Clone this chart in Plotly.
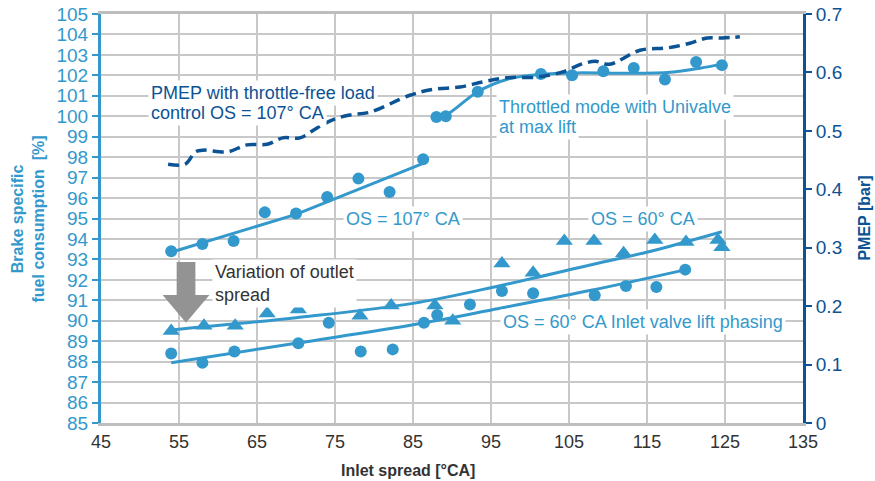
import plotly.graph_objects as go

LB = "#3399cc"   # light blue
DB = "#0b5394"   # dark blue
GRID = "#c8c8c8"
TXT = "#333333"
FONT = "Liberation Sans, Arial, sans-serif"

# ---- data ----
os107_x = [54, 58, 62, 66, 70, 74, 78, 82, 86.3]
os107_y = [93.4, 93.75, 93.9, 95.3, 95.25, 96.05, 96.95, 96.3, 97.9]
os107_fit_x = [54, 70, 86.3]
os107_fit_y = [93.35, 95.2, 97.7]

thr_x = [88.0, 89.2, 93.3, 101.4, 105.4, 109.4, 113.3, 117.3, 121.3, 124.6]
thr_y = [99.96, 100.0, 101.2, 102.07, 102.0, 102.2, 102.36, 101.8, 102.65, 102.5]
thr_fit_x = [88.0, 89.2, 93.3, 97, 101.4, 106, 112, 118, 121.8, 124.6]
thr_fit_y = [99.96, 100.05, 101.2, 101.8, 102.05, 102.12, 102.1, 102.15, 102.35, 102.55]

tri_x = [54, 58.2, 62.2, 66.3, 70.3, 74.2, 78.2, 82.2, 87.8, 90.1, 96.4, 100.4, 104.4, 108.2, 112, 116, 120, 124.1, 124.6]
tri_y = [89.5, 89.75, 89.75, 90.35, 90.55, 91.15, 90.25, 90.75, 90.75, 90.0, 92.8, 92.35, 93.9, 93.9, 93.3, 93.95, 93.85, 93.95, 93.6]
tri_fit_x = [54, 70, 85, 96, 108, 116, 124.6]
tri_fit_y = [89.55, 90.15, 90.85, 91.7, 92.75, 93.45, 94.35]

low_x = [54, 58, 62.1, 70.3, 74.2, 78.3, 82.4, 86.4, 88.1, 92.3, 96.4, 100.4, 108.3, 112.3, 116.2, 119.9]
low_y = [88.4, 87.95, 88.5, 88.9, 89.9, 88.5, 88.6, 89.9, 90.28, 90.8, 91.45, 91.35, 91.25, 91.7, 91.65, 92.5]
low_fit_x = [54, 70, 85, 96, 108, 120]
low_fit_y = [87.95, 88.9, 89.8, 90.6, 91.5, 92.5]

pmep_x = [53.6, 55.8, 57.1, 58.1, 61.2, 63.7, 66.3, 68.3, 70.5, 72.7, 74.7, 76.9, 79.5,
          84.6, 87.6, 91.0, 94.0, 97.1, 100.9, 104.2, 106.8, 108.4, 110.2, 114.1,
          117.6, 120.5, 122.7, 124.7, 126.9]
pmep_y = [0.443, 0.443, 0.464, 0.467, 0.464, 0.476, 0.477, 0.488, 0.488, 0.505, 0.519, 0.527, 0.532,
          0.561, 0.571, 0.575, 0.584, 0.591, 0.592, 0.601, 0.615, 0.619, 0.614, 0.638,
          0.642, 0.650, 0.659, 0.659, 0.661]

x_ticks = [45, 55, 65, 75, 85, 95, 105, 115, 125, 135]
y_ticks = list(range(85, 106))
y2_ticks = [0, 0.1, 0.2, 0.3, 0.4, 0.5, 0.6, 0.7]

# grey "variation" arrow outline in data units
arrow_x = [54.7, 57.1, 57.1, 58.9, 55.9, 52.9, 54.7]
arrow_y = [92.87, 92.87, 91.26, 91.26, 89.9, 91.26, 91.26]

fig = go.Figure()

def line(x, y, **kw):
    fig.add_trace(go.Scatter(x=x, y=y, mode="lines", line=dict(color=LB, width=3, **kw),
                             hoverinfo="skip", showlegend=False))

line(os107_fit_x, os107_fit_y)
line(thr_fit_x, thr_fit_y, shape="spline")
line(tri_fit_x, tri_fit_y, shape="spline")
line(low_fit_x, low_fit_y, shape="spline")

for xs, ys, sym, sz in [(os107_x, os107_y, "circle", 12), (thr_x, thr_y, "circle", 12),
                        (tri_x, tri_y, "triangle-up", 15), (low_x, low_y, "circle", 12)]:
    fig.add_trace(go.Scatter(x=xs, y=ys, mode="markers",
                             marker=dict(symbol=sym, size=sz, color=LB, line=dict(width=0)),
                             showlegend=False))

fig.add_trace(go.Scatter(x=pmep_x, y=pmep_y, yaxis="y2", mode="lines",
                         line=dict(color=DB, width=3.5, dash="11px,6px", shape="spline"),
                         showlegend=False))

fig.add_trace(go.Scatter(x=arrow_x, y=arrow_y, mode="lines", fill="toself",
                         fillcolor="#939393", line=dict(width=0, color="#939393"),
                         showlegend=False))

ann = []
def note(x, y, text, color, **kw):
    ann.append(dict(x=x, y=y, xref="x", yref="y", text=text, showarrow=False,
                    xanchor="left", yanchor="middle", align="left",
                    font=dict(family=FONT, size=18, color=color),
                    bgcolor="white", borderpad=2, **kw))

note(51.0, 101.15, "PMEP with throttle-free load", DB)
note(51.0, 100.15, "control OS = 107° CA", DB)
note(95.6, 100.45, "Throttled mode with Univalve", LB)
note(95.6, 99.47, "at max lift", LB)
note(76.0, 94.98, "OS = 107° CA", LB)
note(107.4, 94.98, "OS = 60° CA", LB)
note(59.2, 91.8, "Variation of outlet<br>spread", TXT)
note(96.1, 89.94, "OS = 60° CA Inlet valve lift phasing", LB)

ann.append(dict(x=84.4, y=-0.115, xref="x", yref="paper", text="<b>Inlet spread [°CA]</b>",
                showarrow=False, xanchor="center", yanchor="middle",
                font=dict(family=FONT, size=16, color=TXT)))
ann.append(dict(x=-0.104, y=0.5, xref="paper", yref="paper",
                text="<b>Brake specific<br>fuel consumption  [%]</b>", textangle=-90,
                showarrow=False, xanchor="center", yanchor="middle",
                font=dict(family=FONT, size=16, color=LB)))
ann.append(dict(x=1.087, y=0.5, xref="paper", yref="paper",
                text="<b>PMEP [bar]</b>", textangle=-90,
                showarrow=False, xanchor="center", yanchor="middle",
                font=dict(family=FONT, size=16, color=DB)))

fig.update_layout(
    width=875, height=481,
    margin=dict(l=101, r=72, t=14, b=58, autoexpand=False),
    paper_bgcolor="white", plot_bgcolor="white",
    font=dict(family=FONT),
    annotations=ann,
    xaxis=dict(range=[45, 135], tickvals=x_ticks, showgrid=True, gridcolor=GRID, gridwidth=2,
               showline=True, linecolor="#bdbdbd", linewidth=3, mirror=True,
               ticks="", zeroline=False, automargin=False,
               tickfont=dict(family=FONT, size=18, color=TXT)),
    yaxis=dict(range=[85, 105], tickvals=y_ticks, showgrid=True, gridcolor=GRID, gridwidth=2,
               showline=True, linecolor=LB, linewidth=3, ticks="outside", ticklen=6,
               tickcolor=LB, tickwidth=2, zeroline=False, automargin=False,
               tickfont=dict(family=FONT, size=19, color=LB)),
    yaxis2=dict(range=[0, 0.7], tickvals=y2_ticks, overlaying="y", side="right",
                showgrid=False, showline=True, linecolor=DB, linewidth=3,
                ticks="outside", ticklen=6, tickcolor=DB, tickwidth=2, zeroline=False,
                automargin=False,
                tickfont=dict(family=FONT, size=19, color=DB)),
)

fig.write_html("out.html")
